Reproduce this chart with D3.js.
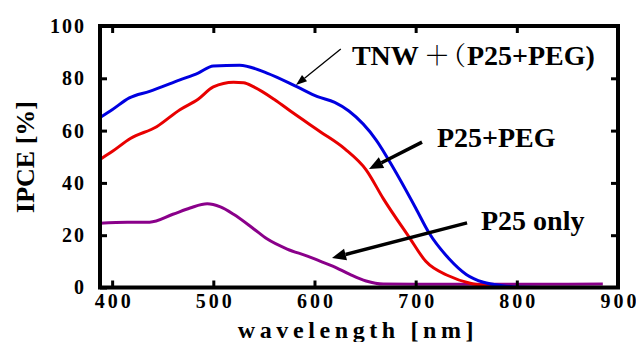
<!DOCTYPE html>
<html><head><meta charset="utf-8">
<script src="https://cdn.jsdelivr.net/npm/d3@7"></script>
<style>
html,body{margin:0;padding:0;background:#fff;}
svg{display:block;}
</style></head>
<body>
<script>
// ---- data ----
const blueNm   = [388,400,417,437,467,485,500,526,553,583,603,620,634,661,679,700,713,733,750,767,786,800,850,885];
const blueVal  = [65,68,72.5,75,79.4,82,84.7,85,82,76.7,73,70.8,67.5,56.4,45,30.4,21,11,5,2,0.7,0.2,0,0];
const redNm    = [388,400,418,444,467,485,500,520,530,540,560,579,606,630,651,668,694,710,733,753,773,800,885];
const redVal   = [49,52,57,61.5,68,72,76.7,78.5,78.3,76.7,72,66.7,59.5,53,45,34,19,10,4.4,1.7,0.5,0,0];
const purpNm   = [388,415,437,460,477,494,507,520,540,553,573,593,606,618,635,651,668,700,800,885];
const purpVal  = [24.6,25,25,28,30.4,32,30.8,28,22.4,18.6,14.7,12,10,8.2,5,2.5,1.3,1.2,1.2,1.3];
const xTicks   = [400,500,600,700,800,900];
const yTicks   = [0,20,40,60,80,100];
const seriesNames = ["TNW＋（P25+PEG)","P25+PEG","P25 only"];
// annotation arrows in data units: [fromNm, fromVal, toNm, toVal]
const arrowTNW  = [626,91.2,581.7,77.4];
const arrowPEG  = [706.3,55.6,653.9,45.3];
const arrowP25  = [750.8,24.7,617.3,11.3];
const labelPos  = [[637,85.1],[721,53.7],[764.6,22]];

const SERIF="'Liberation Serif','Times New Roman',serif";
const W=636,H=342;
const x=d3.scaleLinear().domain([388,900]).range([100,618]);
const y=d3.scaleLinear().domain([0,100]).range([287.5,26]);

const svg=d3.select("body").append("svg").attr("width",W).attr("height",H);

// curves
const line=d3.line().x(d=>x(d[0])).y(d=>y(d[1])).curve(d3.curveMonotoneX);
const series=[
  {nm:blueNm,v:blueVal,c:"#0000e0"},
  {nm:redNm,v:redVal,c:"#e80000"},
  {nm:purpNm,v:purpVal,c:"#8a008a"}
];
series.slice().reverse().forEach(s=>{
  svg.append("path").datum(s.nm.map((n,i)=>[n,s.v[i]]))
    .attr("d",line).attr("fill","none").attr("stroke",s.c).attr("stroke-width",3).attr("stroke-linejoin","round");
});

// axes
function styleAxis(g){
  g.attr("font-family",null).attr("font-size",null);
  g.select(".domain").remove();
  g.selectAll(".tick line").attr("stroke","#000").attr("stroke-width",3);
  g.selectAll("text").style("font-family",SERIF).style("font-weight","bold").style("font-size","20px").attr("fill","#000");
}
const gb=svg.append("g").attr("transform",`translate(0,${y(0)})`)
  .call(d3.axisBottom(x).tickValues(xTicks).tickSize(-7).tickPadding(6).tickFormat(d3.format("d")));
styleAxis(gb);
gb.selectAll("text").style("letter-spacing","3px").attr("dx","1.5px");
const gt=svg.append("g").attr("transform",`translate(0,${y(100)})`)
  .call(d3.axisTop(x).tickValues(xTicks.slice(0,-1)).tickSize(-7).tickFormat(""));
styleAxis(gt);
const gl=svg.append("g").attr("transform",`translate(${x(388)},0)`)
  .call(d3.axisLeft(y).tickValues(yTicks).tickSize(-7).tickPadding(14).tickFormat(d3.format("d")));
styleAxis(gl);
gl.selectAll("text").style("letter-spacing","2px");
const gr=svg.append("g").attr("transform",`translate(${x(900)},0)`)
  .call(d3.axisRight(y).tickValues(yTicks.slice(1,-1)).tickSize(-7).tickFormat(""));
styleAxis(gr);

// frame
svg.append("rect").attr("x",x(388)).attr("y",y(100)).attr("width",x(900)-x(388)).attr("height",y(0)-y(100))
  .attr("fill","none").attr("stroke","#000").attr("stroke-width",4);

function T(sel){return sel.style("font-family",SERIF).style("font-weight","bold").attr("fill","#000");}
// axis titles
T(svg.append("text")).attr("x",358).attr("y",338).attr("text-anchor","middle")
  .style("font-size","24px").style("letter-spacing","4.6px").text("wavelength [nm]");
T(svg.append("text")).attr("transform","translate(34,157) rotate(-90)").attr("text-anchor","middle")
  .style("font-size","26px").text("IPCE [%]");

// arrows
function arrow(a,width,headL,headW){
  const x1=x(a[0]),y1=y(a[1]),x2=x(a[2]),y2=y(a[3]);
  const ang=Math.atan2(y2-y1,x2-x1);
  const bx=x2-headL*Math.cos(ang),by=y2-headL*Math.sin(ang);
  svg.append("line").attr("x1",x1).attr("y1",y1).attr("x2",bx).attr("y2",by)
    .attr("stroke","#000").attr("stroke-width",width);
  const px=-Math.sin(ang)*headW/2,py=Math.cos(ang)*headW/2;
  svg.append("path").attr("d",`M${x2},${y2}L${bx+px},${by+py}L${bx-px},${by-py}Z`).attr("fill","#000");
}
arrow(arrowTNW,1.3,11,8);
arrow(arrowPEG,3.5,14,12);
arrow(arrowP25,3.5,14,12);

// labels
const lx=x(labelPos[0][0]), ly=y(labelPos[0][1]);
const t0=T(svg.append("text")).attr("y",ly).style("font-size","28px");
t0.append("tspan").attr("x",lx).text("TNW");
t0.append("tspan").attr("x",lx+72).style("font-family","'Noto Serif CJK JP'").style("font-weight","normal")
  .style("font-size","26px").style("letter-spacing","-10px").text("＋（");
t0.append("tspan").attr("x",lx+115).style("letter-spacing","0px").text("P25+PEG)");
T(svg.append("text")).attr("x",x(labelPos[1][0])).attr("y",y(labelPos[1][1])).style("font-size","28px").text(seriesNames[1]);
T(svg.append("text")).attr("x",x(labelPos[2][0])).attr("y",y(labelPos[2][1])).style("font-size","28px").text(seriesNames[2]);
</script>
</body></html>
